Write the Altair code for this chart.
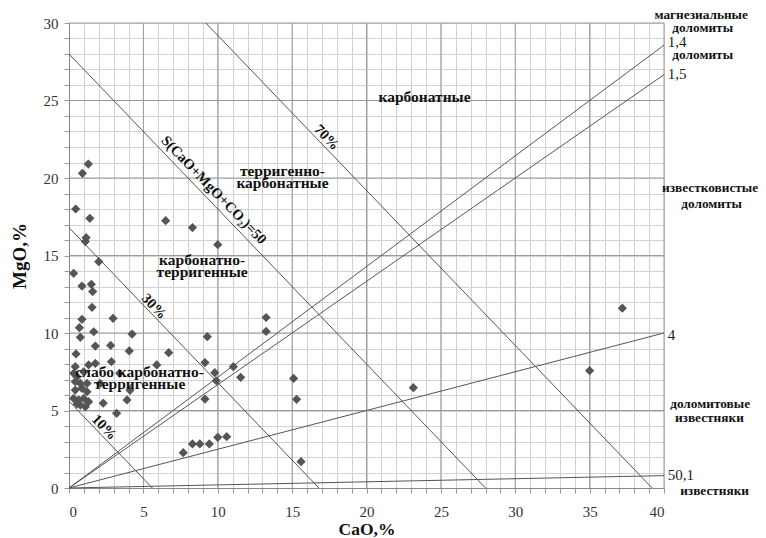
import altair as alt
import pandas as pd

# ---- data ----
cao = [1.3, 0.9, 0.45, 1.4, 6.5, 8.3, 1.15, 1.1, 10.0, 2.0, 0.31, 0.87, 1.5, 1.59, 1.55,
       0.87, 2.96, 0.7, 1.66, 4.24, 0.76, 9.3,
       1.77, 2.8, 0.47, 1.77, 2.85, 0.42, 1.32, 4.05, 6.7, 5.9, 9.14, 9.8, 11.05, 11.54, 9.9, 9.14, 3.4,
       0.31, 0.54, 0.99, 0.42, 0.76, 1.21, 0.42, 0.87, 1.21, 0.31, 0.65, 0.99, 1.32, 0.76, 1.1, 0.54,
       2.1, 2.3, 3.9, 3.2, 4.1,
       7.68, 8.3, 8.8, 9.43, 10.0, 10.6,
       13.25, 13.25, 15.1, 15.3, 15.6, 23.15, 35.0, 37.2]
mgo = [20.9, 20.3, 18.0, 17.4, 17.25, 16.8, 16.15, 15.9, 15.7, 14.6, 13.85, 13.03, 13.14, 12.67, 11.66,
       10.88, 10.95, 10.34, 10.08, 9.93, 9.72, 9.76,
       9.16, 9.2, 8.65, 8.04, 8.15, 7.83, 7.94, 8.84, 8.73, 7.94, 8.09, 7.44, 7.83, 7.14, 6.92, 5.74, 7.4,
       7.4, 7.18, 7.5, 6.86, 6.75, 6.75, 6.32, 6.43, 6.21, 5.78, 5.68, 5.78, 5.57, 5.35, 5.24, 5.42,
       6.75, 5.47, 5.68, 4.82, 6.3,
       2.28, 2.84, 2.84, 2.84, 3.27, 3.31,
       11.0, 10.1, 7.07, 5.72, 1.7, 6.47, 7.57, 11.6]

sum_levels = [5.6, 16.8, 28.0, 39.2]      # CaO + MgO = const lines (10%, 30%, 50, 70%)
ratio_levels = [1.4, 1.5, 4.0, 50.1]      # CaO / MgO lines from origin
major_x = [5, 10, 15, 20, 25, 30, 35, 40]
major_y = [5, 10, 15, 20, 25, 30]
minor_x = list(range(0, 41))
minor_y = list(range(0, 31))

inner_text = ["карбонатные", "терригенно-\nкарбонатные", "карбонатно-\nтерригенные",
              "слабо карбонатно-\nтерригенные"]
inner_x = [23.9, 14.35, 8.95, 4.75]
inner_y = [25.2, 20.47, 14.7, 7.48]

diag_text = ["S(CaO+MgO+CO₂)=50", "70%", "30%", "10%"]
diag_x = [9.71, 17.3, 5.7, 2.35]
diag_y = [19.2, 22.6, 11.7, 3.9]

side_text = ["магнезиальные", "доломиты", "доломиты", "известковистые", "доломиты",
             "доломитовые", "известняки", "известняки"]
side_x = [42.5, 42.6, 42.6, 43.1, 43.2, 43.1, 43.05, 43.4]
side_y = [30.5, 29.7, 27.94, 19.35, 18.32, 5.42, 4.52, -0.19]

num_text = ["1,4", "1,5", "4", "50,1"]
num_x = [40.25, 40.25, 40.25, 40.25]
num_y = [28.77, 26.7, 9.87, 0.84]

# ---- tables ----
points = pd.DataFrame({"CaO": cao, "MgO": mgo})
rows = []
for s in sum_levels:
    y0 = min(s, 30.0)
    rows.append({"x": s - y0, "y": y0, "x2": s, "y2": 0.0})
for r in ratio_levels:
    rows.append({"x": 0.0, "y": 0.0, "x2": 40.0, "y2": 40.0 / r})
lines = pd.DataFrame(rows)
mx = pd.DataFrame({"x": major_x})
my = pd.DataFrame({"y": major_y})
inner = pd.DataFrame({"t": inner_text, "x": inner_x, "y": inner_y})
diag = pd.DataFrame({"t": diag_text, "x": diag_x, "y": diag_y})
side = pd.DataFrame({"t": side_text, "x": side_x, "y": side_y})
nums = pd.DataFrame({"t": num_text, "x": num_x, "y": num_y})

SERIF = "Liberation Serif"
xs = alt.Scale(domain=[0, 40], nice=False, zero=False)
ys = alt.Scale(domain=[0, 30], nice=False, zero=False)

xaxis = alt.Axis(values=minor_x, labelExpr="datum.value % 5 === 0 ? datum.label : ''",
                 grid=True, gridColor="#d2d2d2", gridWidth=1, tickColor="#999", tickSize=5,
                 domainColor="#888", labelFont=SERIF, labelFontSize=15, labelColor="#333",
                 labelPadding=11, labelOverlap=False, title="CaO,%", titleFont=SERIF,
                 titleFontSize=17.5, titleFontWeight="bold", titleColor="#111", titlePadding=1)
yaxis = alt.Axis(values=minor_y, labelExpr="datum.value % 5 === 0 ? datum.label : ''",
                 grid=True, gridColor="#d2d2d2", gridWidth=1, tickColor="#999", tickSize=5,
                 domainColor="#888", labelFont=SERIF, labelFontSize=15, labelColor="#333",
                 labelPadding=6, labelOverlap=False, title="MgO,%", titleFont=SERIF,
                 titleFontSize=19, titleFontWeight="bold", titleColor="#111", titlePadding=14)

X = lambda f: alt.X(f, scale=xs, axis=xaxis)
Y = lambda f: alt.Y(f, scale=ys, axis=yaxis)

vmaj = alt.Chart(mx).mark_rule(color="#9a9a9a", strokeWidth=1).encode(x=X("x:Q"))
hmaj = alt.Chart(my).mark_rule(color="#9a9a9a", strokeWidth=1).encode(y=Y("y:Q"))

seg = alt.Chart(lines).mark_rule(color="#555", strokeWidth=1).encode(
    x=X("x:Q"), y=Y("y:Q"), x2="x2:Q", y2="y2:Q")

pts = alt.Chart(points).mark_point(shape="diamond", filled=True, color="#555", size=85,
                                   opacity=1).encode(x=X("CaO:Q"), y=Y("MgO:Q"))

t_inner = alt.Chart(inner).mark_text(font=SERIF, fontSize=15.5, fontWeight="bold", color="#111",
                                     baseline="middle", align="center", lineBreak="\n",
                                     lineHeight=12).encode(
    x=X("x:Q"), y=Y("y:Q"), text="t:N")
t_diag = alt.Chart(diag).mark_text(font=SERIF, fontSize=14.5, fontWeight="bold", color="#111",
                                   baseline="middle", align="center", angle=46).encode(
    x=X("x:Q"), y=Y("y:Q"), text="t:N")
t_side = alt.Chart(side).mark_text(font=SERIF, fontSize=13.3, fontWeight="bold", color="#111",
                                   baseline="middle", align="center", clip=False).encode(
    x=X("x:Q"), y=Y("y:Q"), text="t:N")
t_num = alt.Chart(nums).mark_text(font=SERIF, fontSize=15, color="#222",
                                  baseline="middle", align="left", clip=False).encode(
    x=X("x:Q"), y=Y("y:Q"), text="t:N")

chart = alt.layer(vmaj, hmaj, seg, pts, t_inner, t_diag, t_side, t_num).properties(
    width=595, height=465,
    autosize=alt.AutoSizeParams(type="none"),
    padding={"left": 61, "top": 15, "right": 94, "bottom": 52},
    background="white",
).configure_view(stroke=None)

chart.save("out.html", embed_options={"renderer": "svg", "actions": False})
